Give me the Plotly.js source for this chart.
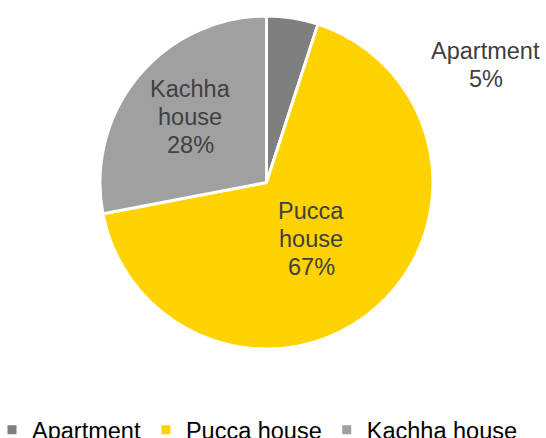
<!DOCTYPE html>
<html>
<head>
<meta charset="utf-8">
<script src="https://cdn.plot.ly/plotly-3.0.1.min.js"></script>
<style>
  html, body { margin: 0; padding: 0; background: #fff; }
  #chart { width: 546px; height: 438px; }
</style>
</head>
<body>
<div id="chart"></div>
<script>
const labels = ['Apartment', 'Pucca house', 'Kachha house'];
const values = [5, 67, 28];
const colors = ['#7f7f7f', '#ffd200', '#a0a0a0'];

const W = 546, H = 438, B = 80;
const PH = H - B; // plot-area height
// label centre points (pixels) for the slice labels, and line pitch
const labelAt = [[486, 65], [311, 239], [190, 117]];
const linePitch = 28;

const total = values.reduce((a, b) => a + b, 0);
const annotations = [];
labels.forEach((lab, i) => {
  const lines = lab.split(' ').concat([Math.round(values[i] / total * 100) + '%']);
  lines.forEach((ln, k) => {
    const py = labelAt[i][1] + (k - (lines.length - 1) / 2) * linePitch;
    annotations.push({
      xref: 'paper', yref: 'paper',
      x: labelAt[i][0] / W, y: (PH - py) / PH,
      xanchor: 'center', yanchor: 'middle',
      showarrow: false,
      text: ln,
      font: { family: 'Liberation Sans, Arial, sans-serif', size: 23.5, color: '#404040' }
    });
  });
});

const trace = {
  type: 'pie',
  labels: labels,
  values: values,
  sort: false,
  direction: 'clockwise',
  rotation: 0,
  textinfo: 'none',
  hoverinfo: 'label+percent',
  marker: { colors: colors, line: { color: '#ffffff', width: 3 } },
  domain: { x: [100 / W, 433 / W], y: [(PH - 349) / PH, (PH - 16) / PH] }
};

const layout = {
  width: W, height: H,
  margin: { l: 0, r: 0, t: 0, b: B, autoexpand: false },
  paper_bgcolor: '#ffffff',
  showlegend: true,
  legend: {
    orientation: 'h',
    x: -8 / W, xanchor: 'left',
    y: (PH - 430) / PH, yanchor: 'middle',
    borderwidth: 0,
    font: { family: 'Liberation Sans, Arial, sans-serif', size: 23.5, color: '#000000' },
    itemclick: false, itemdoubleclick: false
  },
  annotations: annotations
};

Plotly.newPlot('chart', [trace], layout, { displayModeBar: false, staticPlot: true });
</script>
</body>
</html>
